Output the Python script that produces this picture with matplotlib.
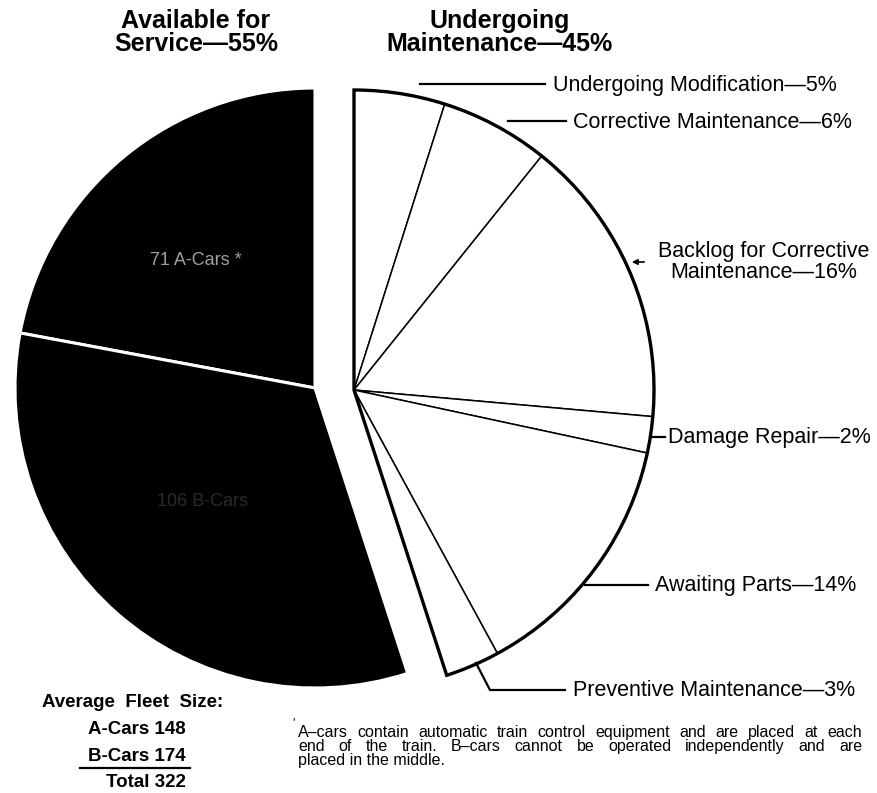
import matplotlib
matplotlib.use('Agg')
import matplotlib.pyplot as plt
from matplotlib.patches import Wedge

plt.rcParams['font.family'] = ['Liberation Sans', 'DejaVu Sans']

# Fleet status breakdown
avail_share = 55
maint_share = 45
avail_types = ['A-Cars', 'B-Cars']
avail_cars = [71, 106]
maint_labels = ['Undergoing Modification', 'Corrective Maintenance',
                'Backlog for Corrective\nMaintenance', 'Damage Repair',
                'Awaiting Parts', 'Preventive Maintenance']
maint_pct = [5, 6, 16, 2, 14, 3]
fleet_types = ['A-Cars', 'B-Cars']
fleet_sizes = [148, 174]

footnote = [
    'A\u2013cars contain automatic train control equipment and are placed at each',
    'end of the train. B\u2013cars cannot be operated independently and are',
    'placed in the middle.',
]

W, H = 878, 793
R = 300


def Y(y):
    # layout below is measured from the top edge
    return H - y


fig = plt.figure(figsize=(W / 100, H / 100), dpi=100)
ax = fig.add_axes([0, 0, 1, 1])

# left half: cars available, split by type
avail_total = sum(avail_cars)
avail_fr = [avail_share / 100 * c / avail_total for c in avail_cars]
ax.pie(avail_fr, radius=R, center=(315, Y(388)), startangle=90,
       counterclock=True, normalize=False, colors=['black'] * len(avail_fr),
       wedgeprops=dict(edgecolor='white', linewidth=2.2))

# right half (pulled out): cars in maintenance, by reason
maint_total = sum(maint_pct)
maint_fr = [maint_share / 100 * p / maint_total for p in maint_pct]
wc = (354, Y(390))
ax.pie(maint_fr, radius=R, center=wc, startangle=90, counterclock=False,
       normalize=False, colors=['white'] * len(maint_fr),
       wedgeprops=dict(edgecolor='black', linewidth=1.1))
span = 360 * maint_share / 100
ax.add_patch(Wedge(wc, R, 90 - span, 90, fill=False, edgecolor='black',
                   linewidth=2.4, zorder=3))

ax.set_xlim(0, W)
ax.set_ylim(0, H)
ax.set_aspect('equal')
ax.axis('off')

# headings
ax.text(196, Y(9), f'Available for\nService\u2014{avail_share}%', ha='center',
        va='top', fontsize=18, fontweight='bold', linespacing=0.96)
ax.text(500, Y(9), f'Undergoing\nMaintenance\u2014{maint_share}%', ha='center',
        va='top', fontsize=18, fontweight='bold', linespacing=0.96)

# faint labels inside the black wedges
ax.text(150, Y(265), f'{avail_cars[0]} {avail_types[0]} *', color='#a0a0a0',
        fontsize=13, va='baseline', ha='left')
ax.text(157, Y(506), f'{avail_cars[1]} {avail_types[1]}', color='#2a2a2a',
        fontsize=13, va='baseline', ha='left')

# maintenance labels with leader lines
lab_fs = 15.5
lw = 1.6
lbl = [f'{n}\u2014{p}%' for n, p in zip(maint_labels, maint_pct)]

ax.plot([420, 545], [Y(84), Y(84)], color='black', lw=lw)
ax.text(553, Y(91), lbl[0], fontsize=lab_fs, va='baseline', ha='left')

ax.plot([508, 566], [Y(121), Y(121)], color='black', lw=lw)
ax.text(573, Y(128), lbl[1], fontsize=lab_fs, va='baseline', ha='left')

ax.annotate('', xy=(629, Y(262)), xytext=(647, Y(262)),
            arrowprops=dict(arrowstyle='-|>', color='black', lw=1.2,
                            mutation_scale=8))
ax.text(764, Y(278), lbl[2], fontsize=lab_fs, va='baseline', ha='center',
        multialignment='center', linespacing=1.0)

ax.plot([652, 665], [Y(437), Y(437)], color='black', lw=lw)
ax.text(668, Y(443), lbl[3], fontsize=lab_fs, va='baseline', ha='left')

ax.plot([585, 648], [Y(585), Y(585)], color='black', lw=lw)
ax.text(655, Y(591), lbl[4], fontsize=lab_fs, va='baseline', ha='left')

ax.plot([476, 490, 565], [Y(663), Y(690), Y(690)], color='black', lw=lw)
ax.text(573, Y(696), lbl[5], fontsize=lab_fs, va='baseline', ha='left')

# fleet size summary
sum_fs = 13.5
ax.text(223, Y(707), 'Average  Fleet  Size:', fontsize=sum_fs,
        fontweight='bold', ha='right', va='baseline')
ax.text(186, Y(734), f'{fleet_types[0]} {fleet_sizes[0]}', fontsize=sum_fs,
        fontweight='bold', ha='right', va='baseline')
ax.text(186, Y(761), f'{fleet_types[1]} {fleet_sizes[1]}', fontsize=sum_fs,
        fontweight='bold', ha='right', va='baseline')
ax.plot([80, 190], [Y(768), Y(768)], color='black', lw=1.6)
ax.text(186, Y(787), f'Total {sum(fleet_sizes)}', fontsize=sum_fs,
        fontweight='bold', ha='right', va='baseline')

# footnote, first two lines justified
fn_fs = 11.5
x0, x1 = 298, 862
renderer = fig.canvas.get_renderer()
ax.text(292, Y(726), "'", fontsize=9, ha='left', va='baseline')
for i, line in enumerate(footnote):
    yb = Y(737 + i * 14)
    if i == len(footnote) - 1:
        ax.text(x0, yb, line, fontsize=fn_fs, ha='left', va='baseline')
        continue
    words = line.split(' ')
    txts = [ax.text(0, yb, w, fontsize=fn_fs, ha='left', va='baseline')
            for w in words]
    widths = [t.get_window_extent(renderer).width for t in txts]
    gap = (x1 - x0 - sum(widths)) / (len(words) - 1)
    x = x0
    for t, w in zip(txts, widths):
        t.set_x(x)
        x += w + gap

fig.savefig('out.png', dpi=100)
